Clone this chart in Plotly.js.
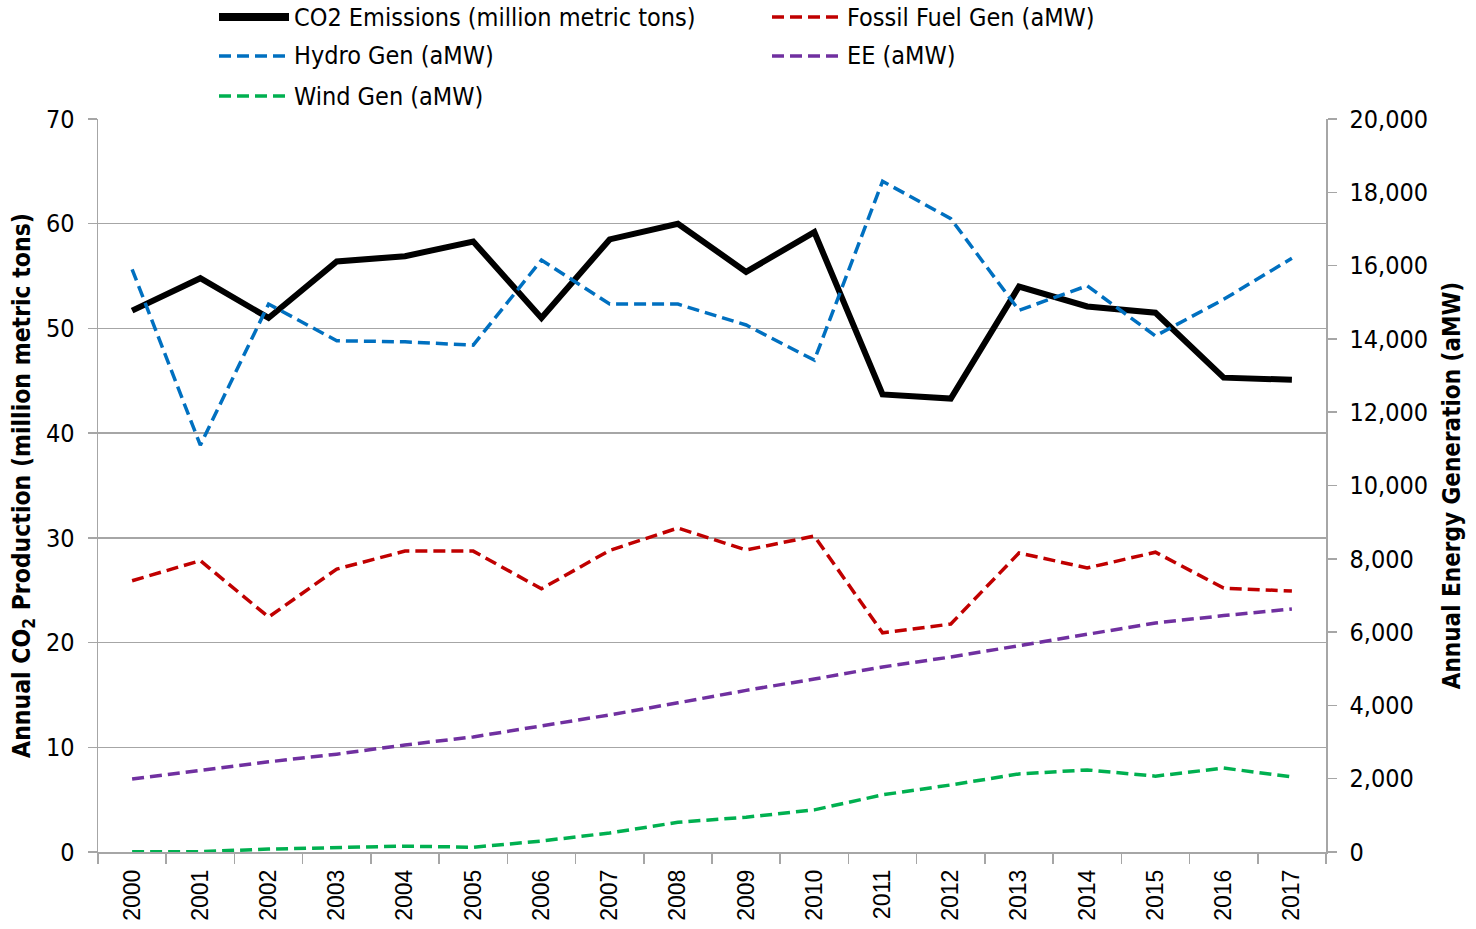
<!DOCTYPE html>
<html>
<head>
<meta charset="utf-8">
<script src="https://cdn.plot.ly/plotly-3.0.1.min.js"></script>
<style>
  html, body { margin: 0; padding: 0; background: #fff; }
  #chart { width: 1476px; height: 929px; }
</style>
</head>
<body>
<div id="chart"></div>
<script>
// years on the category axis
const years = ['2000', '2001', '2002', '2003', '2004', '2005', '2006', '2007', '2008',
    '2009', '2010', '2011', '2012', '2013', '2014', '2015', '2016', '2017'];

// left axis, million metric tons
const co2 = [51.7, 54.8, 51.0, 56.4, 56.9, 58.3, 51.0, 58.5, 60.0,
    55.4, 59.2, 43.7, 43.3, 54.0, 52.1, 51.5, 45.3, 45.1];

// right axis, aMW
const hydro = [15900, 11100, 14950, 13950, 13920, 13830, 16150, 14950, 14950,
    14380, 13420, 18300, 17280, 14780, 15450, 14080, 15080, 16200];
const fossil = [7400, 7950, 6410, 7720, 8210, 8210, 7180, 8230, 8840,
    8240, 8620, 5980, 6220, 8160, 7750, 8180, 7200, 7120];
const ee = [1990, 2230, 2460, 2670, 2920, 3140, 3430, 3740, 4070,
    4410, 4720, 5050, 5320, 5630, 5950, 6250, 6450, 6630];
const wind = [5, 10, 80, 130, 160, 130, 300, 520, 810,
    950, 1150, 1560, 1830, 2130, 2240, 2070, 2290, 2050];

const axisGray = '#a6a6a6';
const dashStyle = '12px,6px';
const condensed = 'DejaVu Sans Condensed, DejaVu Sans, sans-serif';

const traces = [
    {x: years, y: co2, name: 'CO2 Emissions (million metric tons)', yaxis: 'y',
        mode: 'lines', line: {color: '#000000', width: 6}},
    {x: years, y: fossil, name: 'Fossil Fuel Gen (aMW)', yaxis: 'y2',
        mode: 'lines', line: {color: '#c00000', width: 3.5, dash: dashStyle}},
    {x: years, y: hydro, name: 'Hydro Gen (aMW)', yaxis: 'y2',
        mode: 'lines', line: {color: '#0070c0', width: 3.5, dash: dashStyle}},
    {x: years, y: ee, name: 'EE (aMW)', yaxis: 'y2',
        mode: 'lines', line: {color: '#7030a0', width: 3.5, dash: dashStyle}},
    {x: years, y: wind, name: 'Wind Gen (aMW)', yaxis: 'y2',
        mode: 'lines', line: {color: '#00b050', width: 3.5, dash: dashStyle}}
];

// legend drawn by hand: two columns, three rows, long line samples
const plotL = 98, plotR = 1326, plotT = 119, plotB = 852;
const px = v => (v - plotL) / (plotR - plotL);
const py = v => (plotB - v) / (plotB - plotT);
const legCols = [215, 768];
const legRows = [17, 56, 96];
const shapes = [];
const annotations = [];
traces.forEach((t, i) => {
    const x0 = legCols[i % 2];
    const yy = legRows[Math.floor(i / 2)];
    shapes.push({
        type: 'line', xref: 'paper', yref: 'paper',
        x0: px(x0 + 4), x1: px(x0 + 74), y0: py(yy), y1: py(yy),
        line: {color: t.line.color, width: t.line.dash ? 3.5 : 8, dash: t.line.dash || 'solid'}
    });
    annotations.push({
        xref: 'paper', yref: 'paper', x: px(x0 + 77), y: py(yy),
        xanchor: 'left', yanchor: 'middle', showarrow: false,
        text: t.name, font: {family: condensed, size: 25, color: '#000'}
    });
});

const layout = {
    width: 1476,
    height: 929,
    margin: {l: plotL, r: 1476 - plotR, t: plotT, b: 929 - plotB},
    paper_bgcolor: '#ffffff',
    plot_bgcolor: '#ffffff',
    font: {family: condensed, color: '#000000', size: 22},
    showlegend: false,
    shapes: shapes,
    annotations: annotations,
    xaxis: {
        type: 'category',
        range: [-0.5, 17.5],
        tickson: 'boundaries',
        ticks: 'outside', ticklen: 10, tickcolor: axisGray, tickwidth: 1.5,
        showline: true, linecolor: axisGray, linewidth: 1.5,
        showgrid: false,
        tickangle: -90,
        tickfont: {family: 'Liberation Sans, Arial, sans-serif', size: 23},
        ticklabelstandoff: 7
    },
    yaxis: {
        range: [0, 70], dtick: 10,
        ticks: 'outside', ticklen: 9, tickcolor: axisGray, tickwidth: 1.5,
        showline: true, linecolor: axisGray, linewidth: 1.5,
        showgrid: true, gridcolor: axisGray, gridwidth: 1.5,
        zeroline: false,
        tickfont: {family: condensed, size: 25},
        ticklabelstandoff: 8,
        title: {text: 'Annual CO<sub>2</sub> Production (million metric tons)',
            font: {family: condensed, size: 24.5, weight: 'bold'}, standoff: 8}
    },
    yaxis2: {
        overlaying: 'y', side: 'right',
        range: [0, 20000], dtick: 2000, tickformat: ',d',
        ticks: 'outside', ticklen: 9, tickcolor: axisGray, tickwidth: 1.5,
        showline: true, linecolor: axisGray, linewidth: 1.5,
        showgrid: false, zeroline: false,
        tickfont: {family: condensed, size: 25},
        ticklabelstandoff: 8,
        title: {text: 'Annual Energy Generation (aMW)',
            font: {family: condensed, size: 24, weight: 'bold'}, standoff: 16}
    }
};

Plotly.newPlot('chart', traces, layout, {displayModeBar: false, staticPlot: true});
</script>
</body>
</html>
